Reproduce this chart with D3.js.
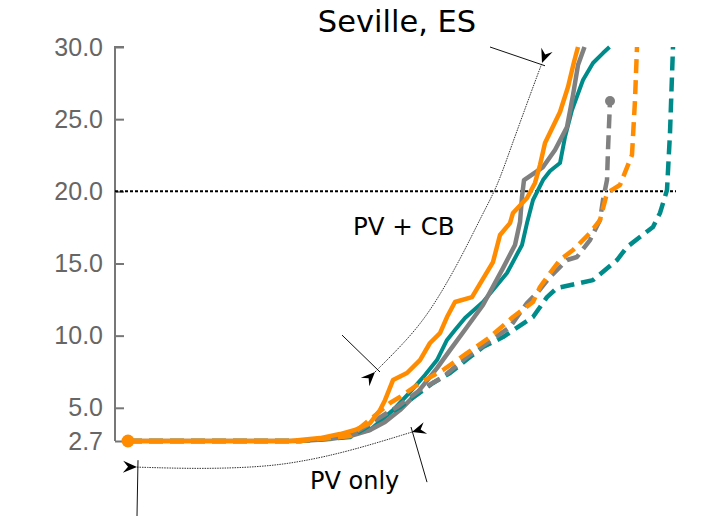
<!DOCTYPE html>
<html>
<head>
<meta charset="utf-8">
<script src="https://cdn.jsdelivr.net/npm/d3@7"></script>
<style>
  body { margin: 0; background: #fff; }
  svg { display: block; font-family: "DejaVu Sans", Verdana, sans-serif; }
</style>
</head>
<body>
<div id="chart"></div>
<script>
// y axis ticks
const yTicks = [2.7, 5, 10, 15, 20, 25, 30];

// series: [x, y]
const orangeSolid = [[0,2.7],[32.4,2.7],[38.4,2.9],[42.4,3.18],[45.4,3.46],[48.4,3.94],[50.4,4.84],[51.4,5.53],[53.0,6.92],[55.8,7.41],[58.4,8.31],[60.4,9.49],[62.4,10.18],[63.8,11.29],[65.4,12.33],[68.8,12.67],[73.0,15.1],[74.4,16.97],[76.4,17.8],[77.0,18.5],[79.8,19.54],[81.4,20.58],[82.4,21.82],[83.4,23.35],[86.4,25.5],[88.0,27.23],[89.2,28.96],[90.0,30.0]];
const greySolid = [[0,2.7],[34.4,2.7],[40.4,2.83],[44.4,3.04],[48.4,3.46],[51.4,4.01],[54.4,4.84],[57.8,6.02],[61.8,7.75],[64.4,9.0],[67.8,10.6],[71.0,12.12],[75.0,14.68],[77.4,16.28],[78.4,17.87],[78.8,19.6],[79.2,20.78],[83.0,21.68],[85.4,22.86],[87.8,24.46],[89.0,26.67],[90.0,28.75],[91.3,30.0]];
const tealSolid = [[0,2.7],[34.4,2.7],[42.4,2.97],[48.4,3.46],[53.0,4.84],[56.4,6.09],[59.4,7.27],[61.8,8.31],[63.8,9.7],[65.4,10.39],[67.4,11.22],[71.0,12.33],[75.8,14.34],[78.8,16.28],[79.8,17.8],[81.0,19.4],[83.0,20.78],[84.4,21.41],[86.4,21.96],[87.4,23.76],[88.8,25.63],[91.0,27.71],[93.0,28.89],[95.0,29.58],[96.3,30.0]];
const greyDashed = [[0,2.7],[34.4,2.7],[44.4,3.04],[51.8,4.64],[53.8,5.05],[58.4,6.23],[63.0,7.13],[67.8,8.52],[71.8,9.49],[76.4,10.6],[79.8,12.26],[81.8,12.95],[84.4,14.06],[87.8,15.24],[89.8,15.45],[92.4,16.62],[94.4,18.01],[95.0,19.4],[95.8,20.78],[96.0,22.86],[96.4,26.26]];
const orangeDashed = [[0,2.7],[34.4,2.7],[44.4,3.04],[52.4,5.33],[54.4,5.75],[58.4,6.72],[63.0,7.62],[67.8,8.79],[72.4,9.9],[77.0,11.29],[81.0,12.33],[82.4,13.37],[84.4,14.34],[86.4,15.24],[89.0,15.93],[92.4,17.11],[94.4,18.01],[95.8,19.88],[98.4,20.44],[100.8,22.52],[101.4,26.33],[101.8,30.0]];
const tealDashed = [[0,2.7],[34.4,2.7],[44.4,2.97],[51.0,4.36],[54.4,5.05],[61.0,6.72],[64.4,7.41],[68.4,8.52],[71.0,9.21],[75.0,9.9],[81.0,11.29],[83.8,12.67],[85.8,13.3],[93.0,13.85],[97.8,15.24],[99.8,16.14],[105.0,17.53],[106.4,18.5],[107.8,20.09],[108.4,24.04],[109.0,30.0]];

// annotation paths (data units)
const cbArc = [[49.4,7.48],[56.4,9.9],[61.0,11.98],[66.4,15.24],[71.0,18.5],[73.8,20.3],[76.4,22.86],[81.0,27.23],[82.8,28.89]];
const cbBars = [[[42.8,10.04],[50.4,7.48]], [[72.4,30.0],[83.4,28.7]]];
const pvArc = [[1.8,0.89],[14.4,0.76],[26.4,0.89],[34.4,1.24],[44.4,2.0],[56.8,3.32]];
const pvBars = [[[2.0,1.37],[1.8,-2.5]], [[56.6,3.67],[59.8,-0.15]]];

const width = 705, height = 516;
const svg = d3.select('#chart').append('svg')
  .attr('width', width)
  .attr('height', height);

const x = d3.scaleLinear().domain([-2.6, 110]).range([115, 678]);
const y = d3.scaleLinear().domain([2.7, 30]).range([441, 47]);

// title
svg.append('text')
  .attr('x', 397).attr('y', 32)
  .attr('text-anchor', 'middle')
  .style('font-size', '30.5px')
  .text('Seville, ES');

// y axis (ticks point inward)
const yAxis = d3.axisRight(y)
  .tickValues(yTicks)
  .tickFormat(d3.format('.1f'))
  .tickSize(9);

const ax = svg.append('g')
  .attr('transform', `translate(${x(-2.6)},0)`)
  .call(yAxis);
ax.select('.domain').attr('stroke', '#777').attr('stroke-width', 2)
  .attr('d', `M9,${y(30)}H0V${y(2.7)}`);
ax.selectAll('.tick line').attr('stroke', '#777').attr('stroke-width', 2);
ax.selectAll('.tick text')
  .attr('text-anchor', 'end')
  .attr('x', -12)
  .attr('fill', '#666')
  .style('font-size', '25px');

// reference line at 20
svg.append('line')
  .attr('x1', x(-2.6)).attr('x2', x(109.6))
  .attr('y1', y(20)).attr('y2', y(20))
  .attr('stroke', '#000')
  .attr('stroke-width', 2)
  .attr('stroke-dasharray', '3,2');

const line = d3.line().x(d => x(d[0])).y(d => y(d[1]));

const series = [
  { data: tealSolid, color: '#008b8b', dash: null, w: 4 },
  { data: greySolid, color: '#808080', dash: null, w: 4.5 },
  { data: tealDashed, color: '#008b8b', dash: '14,7', w: 4.5 },
  { data: greyDashed, color: '#808080', dash: '14,7', w: 4.5 },
  { data: orangeDashed, color: '#ff8c00', dash: '14,7', w: 4.5 },
  { data: orangeSolid, color: '#ff8c00', dash: null, w: 4.5 }
];

svg.append('g').selectAll('path')
  .data(series)
  .enter()
  .append('path')
  .attr('d', d => line(d.data))
  .attr('fill', 'none')
  .attr('stroke', d => d.color)
  .attr('stroke-width', d => d.w)
  .attr('stroke-dasharray', d => d.dash)
  .attr('stroke-linejoin', 'round');

// end markers
svg.append('circle')
  .attr('cx', x(greyDashed[greyDashed.length - 1][0]))
  .attr('cy', y(greyDashed[greyDashed.length - 1][1]))
  .attr('r', 5).attr('fill', '#808080');
svg.append('circle')
  .attr('cx', x(orangeSolid[0][0]))
  .attr('cy', y(orangeSolid[0][1]))
  .attr('r', 6.5).attr('fill', '#ff8c00');

// annotations
const curve = d3.line().x(d => x(d[0])).y(d => y(d[1])).curve(d3.curveBasis);
const ann = svg.append('g');

function arrowHead(tip, from) {
  const tx = x(tip[0]), ty = y(tip[1]);
  const fx = x(from[0]), fy = y(from[1]);
  // points inward along the curve
  const ang = Math.atan2(fy - ty, fx - tx) * 180 / Math.PI;
  ann.append('path')
    .attr('d', 'M0,0L-14,-6L-9,0L-14,6Z')
    .attr('fill', '#000')
    .attr('transform', `translate(${tx},${ty}) rotate(${ang})`);
}

[cbArc, pvArc].forEach(arc => {
  ann.append('path')
    .attr('d', curve(arc))
    .attr('fill', 'none')
    .attr('stroke', '#333')
    .attr('stroke-width', 1)
    .attr('stroke-dasharray', '1.5,1');
  arrowHead(arc[0], arc[1]);
  arrowHead(arc[arc.length - 1], arc[arc.length - 2]);
});

cbBars.concat(pvBars).forEach(b => {
  ann.append('line')
    .attr('x1', x(b[0][0])).attr('y1', y(b[0][1]))
    .attr('x2', x(b[1][0])).attr('y2', y(b[1][1]))
    .attr('stroke', '#111')
    .attr('stroke-width', 1);
});

ann.append('text')
  .attr('x', 353).attr('y', 235)
  .style('font-size', '24.5px')
  .text('PV + CB');

ann.append('text')
  .attr('x', 310).attr('y', 489)
  .style('font-size', '24px')
  .text('PV only');
</script>
</body>
</html>
